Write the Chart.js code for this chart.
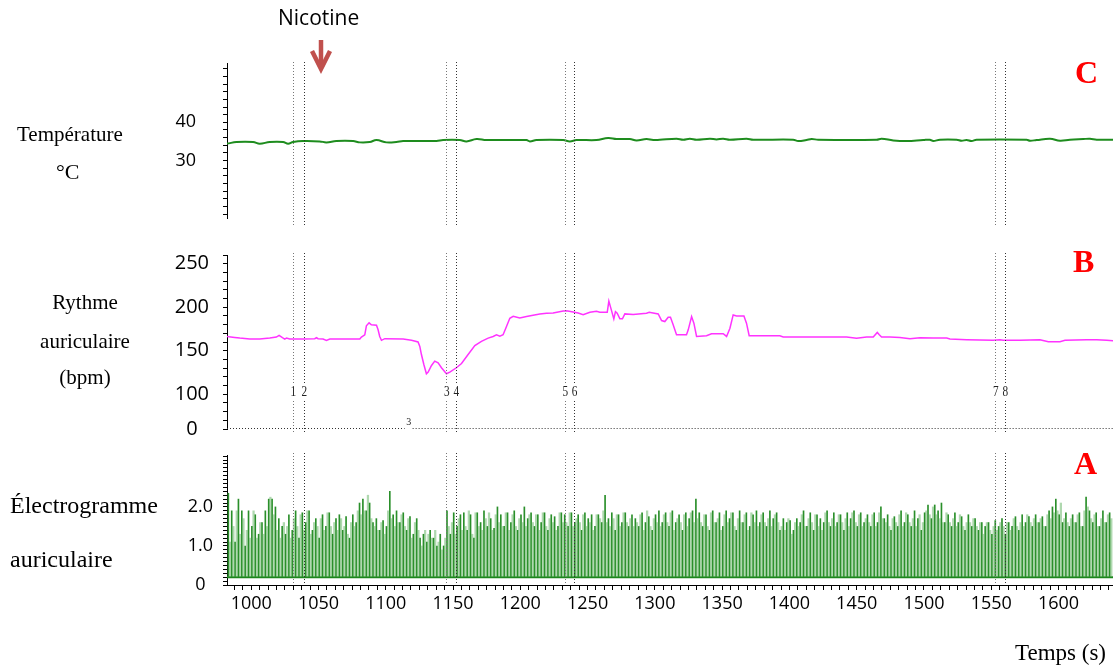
<!DOCTYPE html>
<html>
<head>
<meta charset="utf-8">
<title>Nicotine - température, rythme et électrogramme auriculaires</title>
<script src="https://cdn.jsdelivr.net/npm/chart.js@4.4.0/dist/chart.umd.min.js"></script>
<style>
  body { margin: 0; background: #fff; }
  #wrap { position: relative; width: 1113px; height: 666px; overflow: hidden; }
  #wrap canvas { position: absolute; left: 0; }
  .lbl { position: absolute; white-space: nowrap; line-height: 1; color: #000;
         font-family: "Liberation Serif", "Times New Roman", serif; }
  .panel { font-weight: bold; color: #ff0000; font-size: 32px; }
</style>
</head>
<body>
<div id="wrap">
  <canvas id="chartC" width="1113" height="240" style="top:0px"></canvas>
  <canvas id="chartB" width="1113" height="230" style="top:220px"></canvas>
  <canvas id="chartA" width="1113" height="236" style="top:430px"></canvas>

  <div class="lbl" style="left:278px;top:7px;font-family:'Open Sans',sans-serif;font-size:21px;">Nicotine</div>
  <svg style="position:absolute;left:0;top:0" width="400" height="80">
    <line x1="321" y1="40" x2="321" y2="67" stroke="#c0504d" stroke-width="4.5"/>
    <polyline points="312,51 321,69 330,51" fill="none" stroke="#c0504d" stroke-width="4.5"/>
  </svg>

  <div class="lbl" style="left:17px;top:124px;font-size:21px;">Température</div>
  <div class="lbl" style="left:56px;top:161px;font-size:22px;">°C</div>

  <div class="lbl" style="left:0;width:170px;text-align:center;top:292px;font-size:21px;">Rythme</div>
  <div class="lbl" style="left:0;width:170px;text-align:center;top:331px;font-size:21px;">auriculaire</div>
  <div class="lbl" style="left:0;width:170px;text-align:center;top:367px;font-size:21px;">(bpm)</div>

  <div class="lbl" style="left:10px;top:493px;font-size:24px;">Électrogramme</div>
  <div class="lbl" style="left:10px;top:547px;font-size:24px;">auriculaire</div>

  <div class="lbl" style="left:1015px;top:641px;font-size:23px;">Temps (s)</div>

  <div class="lbl panel" style="left:1075px;top:56px;">C</div>
  <div class="lbl panel" style="left:1073px;top:245px;">B</div>
  <div class="lbl panel" style="left:1074px;top:447px;">A</div>
</div>

<script>
// time window (s)
const timeMin = 982
const timeMax = 1640.5
const timeTickLabels = [1000, 1050, 1100, 1150, 1200, 1250, 1300, 1350, 1400, 1450, 1500, 1550, 1600]

// dotted event lines 1..8
const markerTimes = [1031, 1039, 1145, 1152, 1233, 1240, 1553, 1560]
const markerLabels = ['1', '2', '3', '4', '5', '6', '7', '8']
const baselineNoteTime = 1117
const baselineNote = '3'

// C : temperature
const tempTimes = [976.6, 981.5, 989, 1001.4, 1006.3, 1013.8, 1023.7, 1027.4, 1031.1, 1038.5,
  1050.9, 1055.9, 1063.3, 1075.7, 1080.7, 1088.1, 1093.1, 1100.5, 1107.9, 1112.9,
  1137.7, 1142.6, 1155, 1160, 1167.4, 1174.8, 1204.6, 1207.1, 1212, 1231.9,
  1236.8, 1241.8, 1256.6, 1265.3, 1271.5, 1281.4, 1286.4, 1293.8, 1298.8, 1303.7,
  1316.1, 1321.1, 1326, 1331, 1340.9, 1345.8, 1350.8, 1355.7, 1368.1, 1373.1,
  1402.8, 1406.5, 1412.7, 1416.5, 1421.4, 1464.8, 1468.5, 1477.2, 1487.1, 1499.5,
  1504.4, 1506.9, 1511.9, 1524.3, 1528, 1531.7, 1535.4, 1539.1, 1576.3, 1578.8,
  1583.7, 1593.7, 1601.1, 1608.5, 1618.4, 1623.4, 1628.4, 1640.7]
const tempValues = [34.42, 34.42, 34.85, 34.85, 34.42, 34.85, 34.85, 34.42, 34.85, 35.11,
  35.02, 34.76, 35.11, 35.11, 34.76, 34.85, 35.37, 34.76, 34.85, 35.11,
  35.11, 35.37, 35.37, 35.02, 35.63, 35.37, 35.37, 35.02, 35.37, 35.37,
  35.02, 35.37, 35.37, 35.89, 35.63, 35.63, 35.28, 35.63, 35.37, 35.45,
  35.71, 35.45, 35.71, 35.45, 35.71, 35.54, 35.71, 35.45, 35.71, 35.45,
  35.45, 35.11, 35.37, 35.63, 35.45, 35.45, 35.71, 35.28, 35.11, 35.37,
  35.45, 35.11, 35.45, 35.45, 35.19, 35.37, 35.11, 35.45, 35.45, 35.19,
  35.37, 35.71, 35.19, 35.45, 35.63, 35.71, 35.45, 35.45]
const tempTickLabels = { 30: '30', 40: '40' }

// B : atrial rate (bpm)
const rateTimes = [976.6, 977.8, 979.6, 981.5, 987.7, 991.5, 998.9, 1006.3, 1013.8, 1018.7,
  1020.7, 1023.2, 1024.9, 1026.2, 1028.6, 1038.5, 1047.2, 1048.5, 1049.7, 1053.4,
  1055.9, 1058.4, 1080.7, 1081.9, 1084.4, 1085.6, 1087.6, 1089.3, 1093.1, 1094.3,
  1095.5, 1096.8, 1099.3, 1112.9, 1119.1, 1124.0, 1125.3, 1126.5, 1128.3, 1130.2,
  1131.5, 1134.0, 1136.4, 1138.9, 1141.4, 1145.1, 1147.6, 1152.5, 1156.3, 1161.2,
  1166.2, 1171.1, 1176.1, 1179.8, 1182.3, 1184.8, 1187.2, 1189.2, 1192.2, 1194.7,
  1199.6, 1204.6, 1209.5, 1214.5, 1219.5, 1224.4, 1231.9, 1234.3, 1239.3, 1243.0,
  1246.7, 1251.7, 1256.6, 1259.1, 1264.6, 1265.8, 1267.8, 1269.5, 1270.7, 1272.0,
  1274.0, 1275.9, 1277.7, 1283.9, 1293.8, 1295.8, 1302.5, 1305.0, 1307.4, 1309.9,
  1311.6, 1313.6, 1316.1, 1323.5, 1324.8, 1327.3, 1329.0, 1331.0, 1338.4, 1342.1,
  1350.8, 1353.3, 1355.8, 1358.2, 1360.7, 1366.2, 1368.1, 1370.1, 1392.9, 1395.4,
  1442.5, 1449.9, 1457.4, 1462.3, 1465.3, 1466.8, 1468.5, 1474.7, 1482.1, 1489.6,
  1497.0, 1506.9, 1516.9, 1519.3, 1531.7, 1551.5, 1556.5, 1559.0, 1571.4, 1586.2,
  1592.4, 1601.1, 1604.8, 1620.9, 1628.4, 1635.8, 1640.7]
const rateValues = [169.1, 169.5, 163.4, 166.4, 165.3, 164.5, 163.4, 163.4, 164.5, 165.7,
  167.6, 164.9, 163.4, 164.5, 163.4, 163.4, 163.8, 164.9, 163.8, 163.4,
  161.9, 163.4, 163.4, 165.7, 168.3, 178.6, 182.0, 179.7, 179.3, 174.0,
  166.4, 161.9, 163.8, 163.4, 161.9, 160.0, 155.0, 145.6, 134.2, 123.5,
  125.4, 133.0, 138.0, 136.1, 130.4, 123.5, 125.4, 130.4, 135.3, 145.6,
  155.8, 160.8, 164.5, 166.4, 168.3, 166.8, 168.3, 175.9, 187.3, 189.6,
  187.7, 189.2, 190.7, 192.3, 193.0, 193.4, 195.7, 196.0, 194.5, 193.4,
  191.5, 194.1, 195.3, 194.2, 194.2, 207.1, 196.1, 186.6, 194.9, 193.0,
  186.6, 186.6, 192.3, 191.5, 193.0, 194.2, 192.3, 184.7, 183.5, 188.5,
  188.5, 179.7, 168.3, 168.3, 174.0, 189.2, 181.6, 166.4, 167.2, 169.5,
  169.5, 166.4, 175.9, 191.1, 190.0, 190.0, 181.6, 167.2, 167.2, 165.7,
  165.7, 164.2, 165.7, 165.7, 171.0, 168.3, 165.7, 165.7, 165.3, 163.8,
  164.9, 164.5, 164.5, 163.4, 162.6, 161.9, 162.6, 161.9, 161.9, 162.6,
  160.4, 160.4, 161.9, 162.6, 162.6, 161.9, 161.5]
const rateTickLabels = { 250: '250', 200: '200', 150: '150', 100: '100', 60: '0' }

// A : atrial electrogram, one dark spike every egmStep s from egmStart,
// lighter spikes half a step later
const egmStart = 983
const egmStep = 2.5
const egmBaseline = 0.2
const egmAmplitudes = [
  2.35, 1.9, 1.1, 2.2, 1.9, 1.0, 1.9, 1.5, 1.8, 1.3,
  1.6, 1.9, 2.2, 2.2, 2.0, 1.7, 1.5, 1.3, 1.8, 1.4,
  1.9, 1.2, 1.85, 1.6, 1.9, 1.4, 1.7, 1.2, 1.8, 1.5,
  1.85, 1.3, 1.7, 1.8, 1.4, 1.75, 1.2, 1.8, 1.6, 2.1,
  2.2, 1.9, 2.1, 1.6, 1.7, 1.4, 1.65, 1.5, 2.4, 1.8,
  1.9, 1.6, 1.85, 1.4, 1.75, 1.3, 1.7, 1.2, 1.3, 1.1,
  1.4, 1.2, 1.0, 1.3, 1.0, 1.9, 1.3, 1.85, 1.5, 1.8,
  1.85, 1.4, 1.8, 1.2, 1.85, 1.6, 1.9, 1.5, 1.7, 1.45,
  2.0, 1.8, 1.5, 1.85, 1.6, 1.9, 1.4, 1.8, 2.0, 1.7,
  1.85, 1.5, 1.8, 1.6, 1.85, 1.4, 1.8, 1.75, 1.5, 1.85,
  1.8, 1.5, 1.85, 1.6, 1.8, 1.4, 1.85, 1.7, 1.8, 1.5,
  1.8, 1.6, 2.3, 1.7, 1.85, 1.4, 1.8, 1.6, 1.85, 1.5,
  1.8, 1.7, 1.5, 1.85, 1.6, 1.75, 1.4, 1.8, 1.9, 1.6,
  1.85, 1.5, 1.9, 1.6, 1.8, 1.4, 1.85, 1.7, 1.9, 2.2,
  1.85, 1.5, 1.8, 1.4, 1.9, 1.6, 1.85, 1.5, 1.9, 1.7,
  1.85, 1.4, 1.9, 1.6, 1.85, 1.5, 1.8, 1.9, 1.6, 1.85,
  1.5, 1.9, 1.7, 1.85, 1.4, 1.7, 1.6, 1.65, 1.4, 1.7,
  1.6, 1.9, 1.5, 1.85, 1.4, 1.8, 1.7, 1.6, 1.9, 1.5,
  1.85, 1.6, 1.8, 1.4, 1.85, 1.7, 1.9, 1.5, 1.85, 1.6,
  1.8, 1.5, 1.85, 1.6, 2.0, 1.7, 1.8, 1.4, 1.75, 1.5,
  1.9, 1.6, 1.8, 1.5, 1.9, 1.7, 1.4, 1.85, 2.05, 1.7,
  2.05, 1.9, 2.1, 1.6, 1.8, 1.5, 1.85, 1.6, 1.75, 1.4,
  1.8, 1.5, 1.7, 1.4, 1.6, 1.5, 1.6, 1.3, 1.65, 1.5,
  1.7, 1.3, 1.6, 1.5, 1.75, 1.4, 1.8, 1.6, 1.75, 1.5,
  1.8, 1.6, 1.75, 1.5, 1.9, 2.0, 2.2, 1.8, 1.6, 1.85,
  1.5, 1.8, 1.6, 1.85, 1.5, 2.25, 1.9, 1.6, 1.85, 1.5,
  1.9, 1.6, 1.85]
const egmLightAmplitudes = [
  1.1, 1.5, 1.9, 1.3, 1.7, 1.4, 1.2, 1.9, 1.2, 1.6,
  1.3, 1.5, 2.25, 1.8, 1.4, 1.2, 1.6, 1.5, 1.2, 1.7,
  1.5, 1.8, 1.4, 1.9, 1.3, 1.6, 1.5, 1.7, 1.4, 1.85,
  1.5, 1.6, 1.4, 1.7, 1.5, 1.3, 1.6, 1.5, 1.9, 1.8,
  1.9, 2.3, 1.7, 1.5, 1.4, 1.6, 1.3, 1.9, 1.7, 1.5,
  1.6, 1.8, 1.5, 1.7, 1.2, 1.6, 1.4, 1.0, 1.4, 1.3,
  1.2, 1.4, 1.1, 0.9, 1.2, 1.5, 1.6, 1.3, 1.7, 1.4,
  1.5, 1.9, 1.3, 1.85, 1.5, 1.4, 1.7, 1.85, 1.4, 1.8,
  1.6, 1.5, 1.85, 1.4, 1.8, 1.5, 1.7, 1.6, 1.5, 1.8,
  1.6, 1.8, 1.4, 1.85, 1.5, 1.7, 1.6, 1.4, 1.85, 1.6,
  1.6, 1.85, 1.5, 1.7, 1.6, 1.8, 1.5, 1.6, 1.4, 1.8,
  1.7, 1.9, 1.6, 1.5, 1.7, 1.8, 1.5, 1.85, 1.6, 1.7,
  1.5, 1.6, 1.8, 1.4, 1.9, 1.5, 1.7, 1.6, 1.5, 1.8,
  1.6, 1.85, 1.4, 1.7, 1.6, 1.8, 1.5, 1.85, 1.6, 1.7,
  1.6, 1.8, 1.5, 1.85, 1.6, 1.7, 1.4, 1.8, 1.6, 1.85,
  1.5, 1.7, 1.6, 1.8, 1.4, 1.85, 1.6, 1.5, 1.8, 1.6,
  1.7, 1.5, 1.8, 1.6, 1.5, 1.4, 1.7, 1.3, 1.6, 1.5,
  1.8, 1.5, 1.7, 1.6, 1.8, 1.5, 1.4, 1.85, 1.6, 1.7,
  1.5, 1.8, 1.6, 1.7, 1.5, 1.85, 1.6, 1.8, 1.5, 1.7,
  1.6, 1.8, 1.5, 1.85, 1.7, 1.6, 1.5, 1.7, 1.6, 1.8,
  1.5, 1.85, 1.6, 1.7, 1.5, 1.8, 1.6, 1.9, 1.8, 2.0,
  1.8, 1.7, 1.6, 1.85, 1.6, 1.7, 1.5, 1.8, 1.5, 1.6,
  1.6, 1.7, 1.5, 1.6, 1.3, 1.6, 1.4, 1.5, 1.4, 1.6,
  1.5, 1.6, 1.4, 1.7, 1.5, 1.6, 1.5, 1.8, 1.6, 1.7,
  1.6, 1.7, 1.5, 1.8, 1.7, 1.85, 1.9, 2.1, 1.7, 1.6,
  1.7, 1.6, 1.8, 1.5, 1.9, 2.0, 1.7, 1.8, 1.5, 1.7,
  1.6, 1.8, 1.7]
const egmTickLabels = { 0: '0', 1: '1.0', 2: '2.0' }

const AXIS_LEFT = 227
const tickFont = { family: "'Open Sans', sans-serif", size: 18 }

// dotted event lines drawn through the x scale
const markerPlugin = {
  id: 'markers',
  afterDatasetsDraw(chart, args, opts) {
    const { ctx, chartArea } = chart
    const xs = chart.scales.x
    const top = chartArea.top - opts.extTop
    const bottom = chartArea.bottom + opts.extBottom
    const numY = chartArea.bottom - 37
    ctx.save()
    ctx.lineWidth = 1
    ctx.setLineDash([1, 2])
    markerTimes.forEach((t, i) => {
      const px = Math.round(xs.getPixelForValue(t)) + 0.5
      ctx.strokeStyle = i % 2 ? '#333' : '#777'
      ctx.beginPath()
      if (opts.numbers) {
        ctx.moveTo(px, top); ctx.lineTo(px, numY - 9)
        ctx.moveTo(px, numY + 9); ctx.lineTo(px, bottom)
      } else {
        ctx.moveTo(px, top); ctx.lineTo(px, bottom)
      }
      ctx.stroke()
    })
    if (opts.numbers) {
      ctx.setLineDash([])
      ctx.fillStyle = '#222'
      ctx.font = "15px 'Liberation Serif', serif"
      ctx.textAlign = 'center'
      ctx.textBaseline = 'middle'
      markerTimes.forEach((t, i) => {
        const px = xs.getPixelForValue(t) + 0.5
        ctx.save()
        ctx.translate(px, numY)
        ctx.scale(0.75, 1)
        ctx.fillText(markerLabels[i], 0, 0)
        ctx.restore()
      })
    }
    if (opts.baseline) {
      const y = Math.round(chartArea.bottom) - 0.5
      const nx = xs.getPixelForValue(baselineNoteTime)
      ctx.setLineDash([1, 2])
      ctx.strokeStyle = '#333'
      ctx.beginPath()
      ctx.moveTo(chartArea.left, y); ctx.lineTo(nx - 4, y)
      ctx.moveTo(nx + 4, y); ctx.lineTo(chartArea.right, y)
      ctx.stroke()
      ctx.setLineDash([])
      ctx.fillStyle = '#222'
      ctx.font = "10px 'Liberation Serif', serif"
      ctx.textAlign = 'center'
      ctx.textBaseline = 'middle'
      ctx.fillText(baselineNote, nx, y - 6)
    }
    ctx.restore()
  }
}

function hiddenX() {
  return { type: 'linear', min: timeMin, max: timeMax, display: false }
}

function yAxis(min, max, ticks, labels, padding, fontSize) {
  return {
    min: min, max: max,
    afterFit: s => { s.width = AXIS_LEFT; s.paddingTop = 0; s.paddingBottom = 0 },
    afterBuildTicks: s => { s.ticks = ticks.map(v => ({ value: v })) },
    border: { display: true, color: '#000', width: 1 },
    grid: { drawOnChartArea: false, drawTicks: true, tickLength: 4, tickColor: '#000', tickWidth: 1 },
    ticks: {
      autoSkip: false, padding: padding, crossAlign: 'center', color: '#000',
      font: Object.assign({}, tickFont, { size: fontSize }),
      callback: v => labels[Math.round(v * 1000) / 1000] || ''
    }
  }
}

const commonPlugins = { legend: { display: false }, tooltip: { enabled: false } }

// tick positions
const tempTicks = []
for (let v = 16; v <= 54; v += 2) tempTicks.push(v)
const rateTicks = []
for (let v = 60; v <= 260; v += 10) rateTicks.push(v)
const egmTicks = []
for (let i = 0; i <= 33; i++) egmTicks.push(i / 10)
const timeTicks = []
for (let v = 1000 - 2 * 6.25; v <= timeMax; v += 6.25) timeTicks.push(v)

// C
new Chart(document.getElementById('chartC'), {
  type: 'line',
  data: {
    datasets: [{
      data: tempTimes.map((t, i) => ({ x: t, y: tempValues[i] })),
      borderColor: '#1e8c1e', borderWidth: 2, pointRadius: 0, tension: 0.4
    }]
  },
  options: {
    responsive: false, animation: false,
    layout: { padding: { top: 63, bottom: 22, left: 0, right: 0 } },
    scales: { x: hiddenX(), y: yAxis(15, 55.5, tempTicks, tempTickLabels, 27, 18) },
    plugins: Object.assign({ markers: { extTop: 1, extBottom: 9 } }, commonPlugins)
  },
  plugins: [markerPlugin]
})

// B
new Chart(document.getElementById('chartB'), {
  type: 'line',
  data: {
    datasets: [{
      data: rateTimes.map((t, i) => ({ x: t, y: rateValues[i] })),
      borderColor: '#ff33ff', borderWidth: 1.5, pointRadius: 0, tension: 0
    }]
  },
  options: {
    responsive: false, animation: false,
    layout: { padding: { top: 35, bottom: 21, left: 0, right: 0 } },
    scales: { x: hiddenX(), y: yAxis(60, 260, rateTicks, rateTickLabels, 14, 20) },
    plugins: Object.assign({ markers: { extTop: 2, extBottom: 3, numbers: true, baseline: true } }, commonPlugins)
  },
  plugins: [markerPlugin]
})

// A
new Chart(document.getElementById('chartA'), {
  type: 'bar',
  data: {
    datasets: [{
      type: 'bar',
      data: egmLightAmplitudes.map((v, i) => ({ x: egmStart + (i + 0.5) * egmStep, y: v })),
      base: egmBaseline, grouped: false,
      barThickness: 1.6,
      backgroundColor: 'rgba(95,178,95,0.5)',
      borderWidth: 0
    }, {
      type: 'bar',
      data: egmAmplitudes.map((v, i) => ({ x: egmStart + i * egmStep, y: v })),
      base: egmBaseline, grouped: false,
      barThickness: 1,
      backgroundColor: '#2a8f2a',
      borderWidth: 0
    }, {
      type: 'line',
      data: [{ x: timeMin, y: egmBaseline }, { x: timeMax, y: egmBaseline }],
      borderColor: '#1c861c', borderWidth: 2, pointRadius: 0
    }]
  },
  options: {
    responsive: false, animation: false,
    layout: { padding: { top: 25, bottom: 0, left: 0, right: 0 } },
    scales: {
      x: {
        type: 'linear', min: timeMin, max: timeMax, offset: false,
        afterFit: s => { s.height = 81 },
        afterBuildTicks: s => { s.ticks = timeTicks.map(v => ({ value: v })) },
        border: { display: true, color: '#000', width: 1 },
        grid: { offset: false, drawOnChartArea: false, drawTicks: true, tickLength: 5, tickColor: '#000' },
        ticks: {
          autoSkip: false, maxRotation: 0, padding: 3, color: '#000', font: tickFont,
          callback: v => timeTickLabels.includes(v) ? String(v) : ''
        }
      },
      y: yAxis(0, 3.33, egmTicks, egmTickLabels, 10, 18)
    },
    plugins: Object.assign({ markers: { extTop: 2, extBottom: 0 } }, commonPlugins)
  },
  plugins: [markerPlugin]
})
</script>
</body>
</html>
